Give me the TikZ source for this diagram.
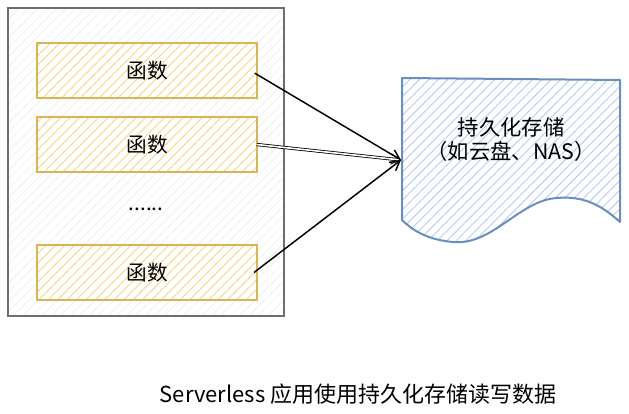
\documentclass[tikz,border=0pt]{standalone}
\usepackage{fontspec}
\setmainfont{Noto Sans CJK SC}
\usetikzlibrary{patterns.meta,arrows.meta}
\definecolor{ystroke}{HTML}{D6B656}
\definecolor{yhatch}{HTML}{F5DC8A}
\definecolor{bstroke}{HTML}{6C8EBF}
\definecolor{bhatch}{HTML}{B7CDEE}
\definecolor{gstroke}{HTML}{6E6E6E}
\definecolor{ghatch}{HTML}{EDEDED}
\tikzset{
  funcbox/.style={draw=ystroke, line width=1.5pt, minimum width=165pt, minimum height=41pt,
    pattern={Lines[angle=45,distance=5pt,line width=0.7pt]}, pattern color=yhatch,
    font=\fontsize{15.5}{18}\selectfont, inner sep=0pt},
  conn/.style={black, line width=1.1pt, -{Straight Barb[length=7pt,width=8pt]}},
}
\begin{document}
\begin{tikzpicture}[x=0.75pt,y=-0.75pt]
\useasboundingbox (0,0) rectangle (629,414);
% container
\node[draw=gstroke, line width=1.4pt, minimum width=207pt, minimum height=231pt, inner sep=0pt,
  pattern={Lines[angle=45,distance=5pt,line width=0.5pt]}, pattern color=ghatch] (container) at (146,162) {};
\node[funcbox] (f1) at (147,70.5) {函数};
\node[funcbox] (f2) at (147,144.5) {函数};
\node[font=\fontsize{15.5}{18}\selectfont] (dots) at (146,209) {......};
\node[funcbox] (f3) at (147,272.5) {函数};
% storage document shape
\fill[pattern={Lines[angle=45,distance=5pt,line width=0.7pt]}, pattern color=bhatch]
  (402,78) -- (620,80) -- (620,222) .. controls (598,202) and (580,196) .. (557,198)
  .. controls (520,200) and (492,246) .. (453,242) .. controls (430,240) and (414,232) .. (402,220) -- cycle;
\draw[bstroke, line width=1.5pt, line join=round]
  (402,78) -- (620,80) -- (620,222) .. controls (598,202) and (580,196) .. (557,198)
  .. controls (520,200) and (492,246) .. (453,242) .. controls (430,240) and (414,232) .. (402,220) -- cycle;
\node[minimum width=163pt, minimum height=106pt, inner sep=0pt, align=center,
  font=\fontsize{16}{18}\selectfont] (storage) at (511,140) {持久化存储\\（如云盘、NAS）};
\coordinate (tip) at (401,160);
% connectors
\draw[conn] ([xshift=-2pt,yshift=-2pt]f1.east) -- (tip);
\draw[conn, double, double distance=1.2pt, line width=0.6pt] ([xshift=-1pt]f2.east) -- (tip);
\draw[conn] ([xshift=-3pt,yshift=0pt]f3.east) -- (tip);
% caption
\node[font=\fontsize{16.5}{18}\selectfont] (caption) at (358,394) {Serverless 应用使用持久化存储读写数据};
\end{tikzpicture}
\end{document}
